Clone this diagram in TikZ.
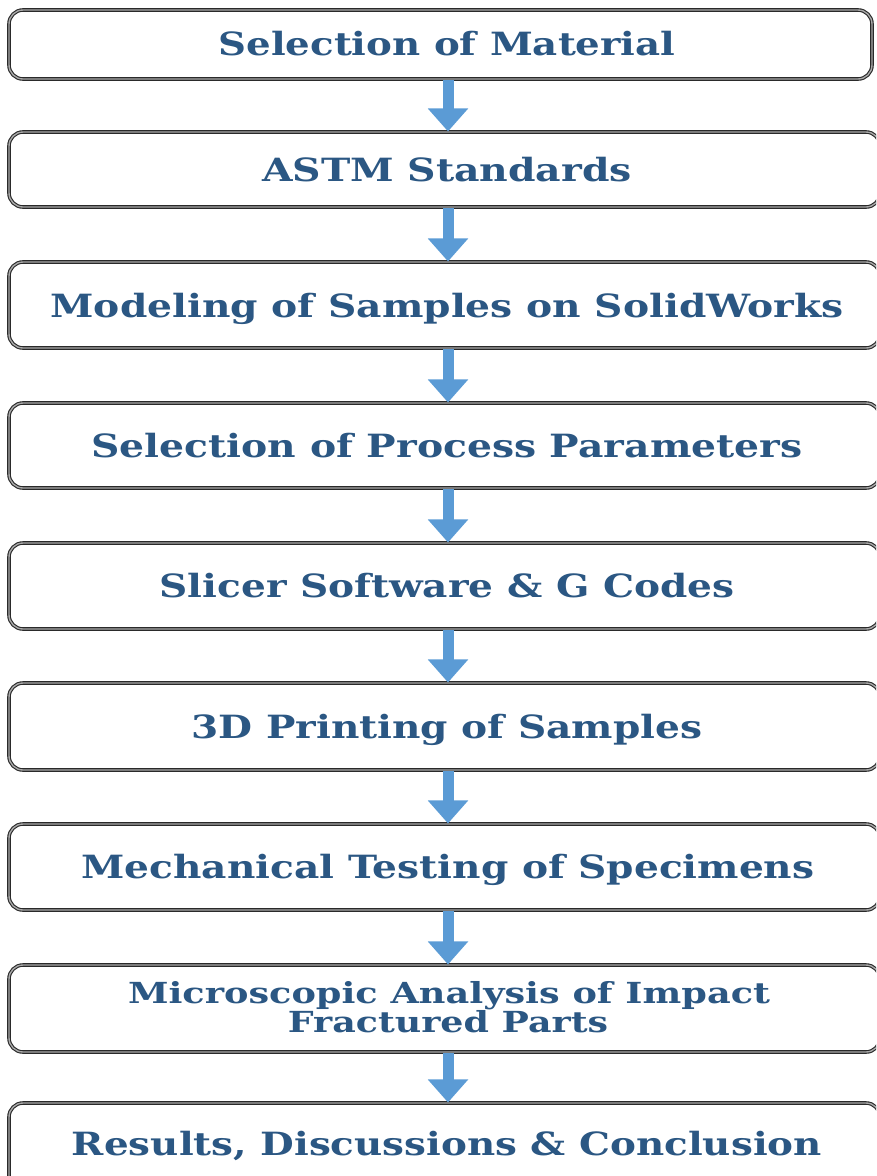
\documentclass[tikz,border=0pt]{standalone}
\usepackage{fontspec}
\setmainfont{DejaVu Serif}
\usetikzlibrary{arrows.meta}
\definecolor{txtblue}{HTML}{2B5783}
\definecolor{arrblue}{HTML}{5B9BD5}
\definecolor{bordark}{HTML}{2A2A2A}
\definecolor{borlight}{HTML}{A8A8A8}
\newcommand{\fitw}[2]{\resizebox{#1}{\height}{#2}}
\begin{document}
\begin{tikzpicture}[x=1pt,y=-1pt,
  stepbox/.style={draw=bordark, double=borlight, double distance=1.4pt, line width=1.1pt, rounded corners=14pt, fill=white, inner sep=0pt},
  steptext/.style={anchor=base, text=txtblue, font=\fontsize{32}{36}\selectfont\bfseries, inner sep=0pt},
  smalltext/.style={steptext, font=\fontsize{29}{30}\selectfont\bfseries},
  flowarrow/.style={draw=arrblue, line width=11pt, -{Triangle[width=39pt,length=23pt]}}]
\useasboundingbox (0,0) rectangle (876,1176);
\clip (0,0) rectangle (876,1176);
\coordinate (ax) at (448,0);
% boxes
\node[stepbox, minimum width=863pt, minimum height=69pt] (b1) at (440.5,44.5) {};
\node[stepbox, minimum width=871pt, minimum height=75pt] (b2) at (444.5,169.5) {};
\node[stepbox, minimum width=871pt, minimum height=86pt] (b3) at (444.5,305) {};
\node[stepbox, minimum width=871pt, minimum height=85pt] (b4) at (444.5,445.5) {};
\node[stepbox, minimum width=871pt, minimum height=86pt] (b5) at (444.5,586) {};
\node[stepbox, minimum width=871pt, minimum height=87pt] (b6) at (444.5,726.5) {};
\node[stepbox, minimum width=871pt, minimum height=86pt] (b7) at (444.5,867) {};
\node[stepbox, minimum width=871pt, minimum height=87pt] (b8) at (444.5,1008.5) {};
\node[stepbox, minimum width=871pt, minimum height=87pt] (b9) at (444.5,1146.5) {};
% texts
\node[steptext] (t1) at (447,55) {\fitw{457pt}{Selection of Material}};
\node[steptext] (t2) at (447,181) {\fitw{370pt}{ASTM Standards}};
\node[steptext] (t3) at (447,317) {\fitw{793pt}{Modeling of Samples on SolidWorks}};
\node[steptext] (t4) at (447,457) {\fitw{711pt}{Selection of Process Parameters}};
\node[steptext] (t5) at (447,597.5) {\fitw{575pt}{Slicer Software \& G Codes}};
\node[steptext] (t6) at (447,738) {\fitw{511pt}{3D Printing of Samples}};
\node[steptext] (t7) at (448,878.5) {\fitw{733pt}{Mechanical Testing of Specimens}};
\node[smalltext] (t8a) at (449,1003) {\fitw{642pt}{Microscopic Analysis of Impact}};
\node[smalltext] (t8b) at (448,1032) {\fitw{320pt}{Fractured Parts}};
\node[steptext] (t9) at (447,1155) {\fitw{750pt}{Results, Discussions \& Conclusion}};
% arrows
\draw[flowarrow] (b1.south -| ax) -- (b2.north -| ax);
\draw[flowarrow] (b2.south -| ax) -- (b3.north -| ax);
\draw[flowarrow] (b3.south -| ax) -- (b4.north -| ax);
\draw[flowarrow] (b4.south -| ax) -- (b5.north -| ax);
\draw[flowarrow] (b5.south -| ax) -- (b6.north -| ax);
\draw[flowarrow] (b6.south -| ax) -- (b7.north -| ax);
\draw[flowarrow] (b7.south -| ax) -- (b8.north -| ax);
\draw[flowarrow] (b8.south -| ax) -- (b9.north -| ax);
\end{tikzpicture}
\end{document}
